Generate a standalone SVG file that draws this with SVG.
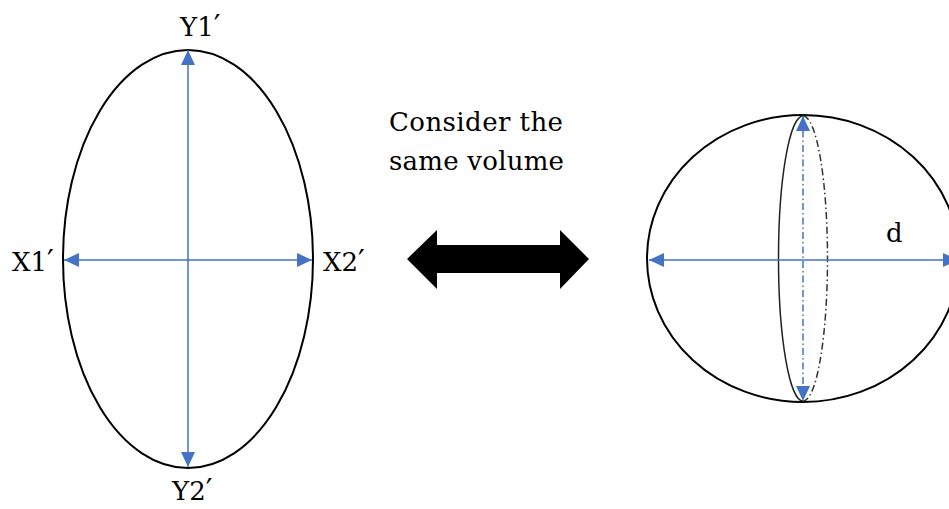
<svg xmlns="http://www.w3.org/2000/svg" width="949" height="509" viewBox="0 0 949 509">
<style>
.shape{fill:none;stroke:#000;stroke-width:2}
.axis{fill:none;stroke:#4472C4;stroke-width:1.5}
.dd{stroke-dasharray:7 3 1.5 3}
.lbl{font-family:"DejaVu Serif","Liberation Serif",serif;font-size:26px;fill:#000}
.pr{font-size:30px}
.cap{font-family:"DejaVu Serif","Liberation Serif",serif;font-size:26px;fill:#000}
</style>
<defs>
<marker id="ah" viewBox="0 0 15 14" refX="15" refY="7" markerWidth="15" markerHeight="14" markerUnits="userSpaceOnUse" orient="auto-start-reverse">
<path d="M0,0 L15,7 L0,14 z" fill="#4472C4"/>
</marker>
</defs>
<g id="ellipse-node">
<ellipse class="shape" cx="188" cy="259" rx="125" ry="209"/>
<text class="lbl" x="180" y="36">Y1<tspan class="pr">′</tspan></text>
<text class="lbl" x="12" y="271">X1<tspan class="pr">′</tspan></text>
<text class="lbl" x="323" y="271">X2<tspan class="pr">′</tspan></text>
<text class="lbl" x="172" y="500">Y2<tspan class="pr">′</tspan></text>
</g>
<g id="sphere-node">
<ellipse class="shape" cx="803" cy="258.5" rx="156" ry="143.5"/>
<path d="M803,116 A24.5,142.5 0 0 0 803,401" fill="none" stroke="#222" stroke-width="1.5"/>
<path d="M803,116 A24.5,142.5 0 0 1 803,401" fill="none" stroke="#333" stroke-width="1.5" class="dd"/>
<text class="lbl" x="886" y="242">d</text>
</g>
<g id="caption">
<text class="cap" x="389" y="131" textLength="174">Consider the</text>
<text class="cap" x="389" y="170" textLength="175">same volume</text>
</g>
<g id="connectors">
<line class="axis" x1="188" y1="50" x2="188" y2="467" marker-start="url(#ah)" marker-end="url(#ah)"/>
<line class="axis" x1="64" y1="260" x2="312" y2="260" marker-start="url(#ah)" marker-end="url(#ah)"/>
<line class="axis" x1="649" y1="260" x2="958" y2="260" marker-start="url(#ah)" marker-end="url(#ah)"/>
<line class="axis dd" x1="803" y1="116" x2="803" y2="401" marker-start="url(#ah)" marker-end="url(#ah)"/>
<polygon points="407,259 437,230 437,245 560,245 560,230 589,259 560,289 560,273 437,273 437,289" fill="#000"/>
</g>
</svg>
